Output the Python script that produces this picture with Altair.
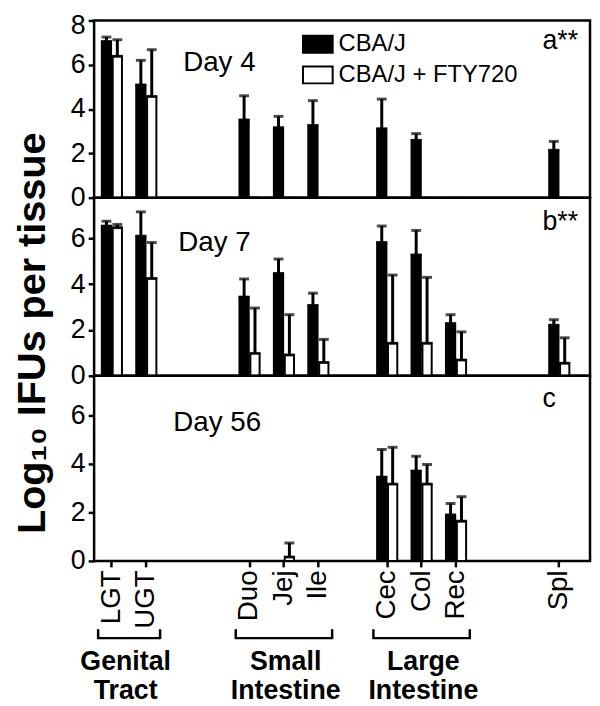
import altair as alt
import pandas as pd

# ---------------- data ----------------
tissues = ["LGT", "UGT", "Duo", "Jej", "Ile", "Cec", "Col", "Rec", "Spl"]
x_slots = ["LGT", "UGT", "gap1", "gap2", "Duo", "Jej", "Ile", "gap3",
           "Cec", "Col", "Rec", "gap4", "gap5", "Spl"]
series = ["CBA/J", "CBA/J + FTY720"]

day4_cba = [7.05, 5.09, 3.51, 3.16, 3.26, 3.11, 2.59, 0.0, 2.14]
day4_cba_err = [0.20, 1.11, 1.09, 0.51, 1.12, 1.34, 0.30, 0.0, 0.40]
day4_fty = [6.38, 4.57, 0.0, 0.0, 0.0, 0.0, 0.0, 0.0, 0.0]
day4_fty_err = [0.75, 2.11, 0.0, 0.0, 0.0, 0.0, 0.0, 0.0, 0.0]

day7_cba = [6.54, 6.10, 3.44, 4.47, 3.07, 5.82, 5.28, 2.28, 2.21]
day7_cba_err = [0.21, 1.06, 0.79, 0.63, 0.54, 0.72, 1.07, 0.39, 0.24]
day7_fty = [6.47, 4.25, 0.98, 0.91, 0.58, 1.42, 1.42, 0.69, 0.55]
day7_fty_err = [0.14, 1.57, 1.98, 1.76, 1.01, 2.98, 2.88, 1.23, 1.11]

day56_cba = [0.0, 0.0, 0.0, 0.0, 0.0, 3.46, 3.71, 1.90, 0.0]
day56_cba_err = [0.0, 0.0, 0.0, 0.0, 0.0, 1.14, 0.61, 0.47, 0.0]
day56_fty = [0.0, 0.0, 0.0, 0.16, 0.0, 3.17, 3.17, 1.64, 0.0]
day56_fty_err = [0.0, 0.0, 0.0, 0.58, 0.0, 1.52, 0.81, 1.01, 0.0]

day_labels = ["Day 4", "Day 7", "Day 56"]
panel_letters = ["a**", "b**", "c"]
y_title = "Log\u2081\u2080 IFUs per tissue"
group_names = ["Genital\nTract", "Small\nIntestine", "Large\nIntestine"]
group_first = ["LGT", "Duo", "Cec"]
group_last = ["UGT", "Ile", "Rec"]
group_center = ["LGT", "Jej", "Col"]

# ---------------- layout / style ----------------
FONT = "Liberation Sans"
W = 501
heights = [179, 180, 187]
ymaxes = [8, 7.78, 7.64]
day_pos = [(90, 51), (85, 54), (80, 56)]
letter_pos = [(453, 29), (453, 33), (453, 31)]


def make_df(cba, cba_err, fty, fty_err):
    rows = []
    for i, t in enumerate(tissues):
        rows.append({"tissue": t, "series": series[0], "mean": cba[i], "err": cba_err[i]})
        rows.append({"tissue": t, "series": series[1], "mean": fty[i], "err": fty_err[i]})
    df = pd.DataFrame(rows)
    df["upper"] = df["mean"] + df["err"]
    return df


dfs = [
    make_df(day4_cba, day4_cba_err, day4_fty, day4_fty_err),
    make_df(day7_cba, day7_cba_err, day7_fty, day7_fty_err),
    make_df(day56_cba, day56_cba_err, day56_fty, day56_fty_err),
]

x_scale = alt.Scale(domain=x_slots, paddingInner=0, paddingOuter=0.205, align=0.04)
xo_scale = alt.Scale(domain=series, paddingInner=0.15, paddingOuter=0.655)
fill_scale = alt.Scale(domain=series, range=["black", "white"])

legend = alt.Legend(
    orient="none", legendX=210, legendY=8, title=None, padding=0,
    symbolType="M-1,-0.57H1V0.57H-1Z", symbolSize=900,
    symbolStrokeColor="black", symbolStrokeWidth=2,
    labelFont=FONT, labelFontSize=24, labelColor="black", labelOffset=5,
    rowPadding=2, labelLimit=400,
)


def panel(i, show_x):
    df = dfs[i]
    y_scale = alt.Scale(domain=[0, ymaxes[i]], nice=False, zero=True)
    yvals = [v for v in [0, 2, 4, 6, 8] if v <= ymaxes[i]]
    y_axis = alt.Axis(values=yvals, title=None, grid=False, domain=False,
                      labelFont=FONT, labelFontSize=27, labelColor="black",
                      tickColor="black", tickSize=6, tickWidth=2.5, labelPadding=3,
                      labelOffset={"condition": {"test": "datum.value == 8", "value": 5},
                                   "value": 0})
    if show_x:
        x_axis = alt.Axis(values=tissues, title=None, grid=False, domain=False,
                          labelAngle=270, labelFont=FONT, labelFontSize=28,
                          labelColor="black", tickColor="black", tickSize=6,
                          tickWidth=2.5, labelPadding=3)
    else:
        x_axis = None
    x = alt.X("tissue:N", scale=x_scale, axis=x_axis, sort=x_slots)
    xo = alt.XOffset("series:N", scale=xo_scale, sort=series)

    base = alt.Chart(df)
    bars = base.mark_bar(stroke="black", strokeWidth=2).encode(
        x=x, xOffset=xo,
        y=alt.Y("mean:Q", scale=y_scale, axis=y_axis),
        fill=alt.Fill("series:N", scale=fill_scale, legend=legend if i == 0 else None),
    )
    errs = base.transform_filter("datum.err > 0")
    err_line = errs.mark_rule(color="black", strokeWidth=3).encode(
        x=x, xOffset=xo, y=alt.Y("mean:Q", scale=y_scale, axis=y_axis), y2="upper:Q")
    cap = errs.mark_tick(color="black", thickness=3, size=10).encode(
        x=x, xOffset=xo, y=alt.Y("upper:Q", scale=y_scale, axis=y_axis))
    lip = errs.mark_tick(color="black", thickness=3, size=11).encode(
        x=x, xOffset=xo, y=alt.Y("mean:Q", scale=y_scale, axis=y_axis))

    dx, dy = day_pos[i]
    day = alt.Chart(pd.DataFrame({"t": [day_labels[i]]})).mark_text(
        font=FONT, fontSize=28, align="left", baseline="alphabetic", color="black"
    ).encode(text="t:N", x=alt.value(dx), y=alt.value(dy))
    lx, ly = letter_pos[i]
    letter = alt.Chart(pd.DataFrame({"t": [panel_letters[i]]})).mark_text(
        font=FONT, fontSize=27, align="left", baseline="alphabetic", color="black"
    ).encode(text="t:N", x=alt.value(lx), y=alt.value(ly))

    layers = [err_line, bars, cap, lip, day, letter]

    if i == 1:
        ttl = alt.Chart(pd.DataFrame({"t": [y_title]})).mark_text(
            font=FONT, fontSize=40, fontWeight="bold", angle=270,
            align="center", baseline="middle", color="black"
        ).encode(text="t:N", x=alt.value(-62), y=alt.value(137))
        layers.append(ttl)

    if show_x:
        gdf = pd.DataFrame({"name": group_names, "first": group_first,
                            "last": group_last, "center": group_center})
        gb = alt.Chart(gdf)
        h_rule = gb.mark_rule(color="black", strokeWidth=2.5).encode(
            x=alt.X("first:N", scale=x_scale, axis=x_axis, bandPosition=0.1),
            x2=alt.X2("last:N", bandPosition=0.9),
            y=alt.value(265))
        l_end = gb.mark_rule(color="black", strokeWidth=2.5).encode(
            x=alt.X("first:N", scale=x_scale, axis=x_axis, bandPosition=0.1),
            y=alt.value(256), y2=alt.value(266))
        r_end = gb.mark_rule(color="black", strokeWidth=2.5).encode(
            x=alt.X("last:N", scale=x_scale, axis=x_axis, bandPosition=0.9),
            y=alt.value(256), y2=alt.value(266))
        txt_kw = dict(font=FONT, fontSize=27, fontWeight="bold", lineBreak="\n",
                      lineHeight=29, align="center", baseline="alphabetic", color="black")
        g_lab1 = gb.transform_filter("datum.center == 'LGT'").mark_text(**txt_kw).encode(
            x=alt.X("center:N", scale=x_scale, axis=x_axis, bandPosition=0.9),
            y=alt.value(297), text="name:N")
        g_lab2 = gb.transform_filter("datum.center != 'LGT'").mark_text(**txt_kw).encode(
            x=alt.X("center:N", scale=x_scale, axis=x_axis, bandPosition=0.55),
            y=alt.value(297), text="name:N")
        layers += [h_rule, l_end, r_end, g_lab1, g_lab2]

    return alt.layer(*layers).properties(width=W, height=heights[i])


chart = alt.vconcat(
    panel(0, False), panel(1, False), panel(2, True),
    spacing=0, bounds="flush",
).properties(
    padding={"left": 3, "top": -2, "right": 0, "bottom": 0}
).configure_view(
    stroke="black", strokeWidth=2.5
)

chart.save("out.html", embed_options={"renderer": "svg", "actions": False})
